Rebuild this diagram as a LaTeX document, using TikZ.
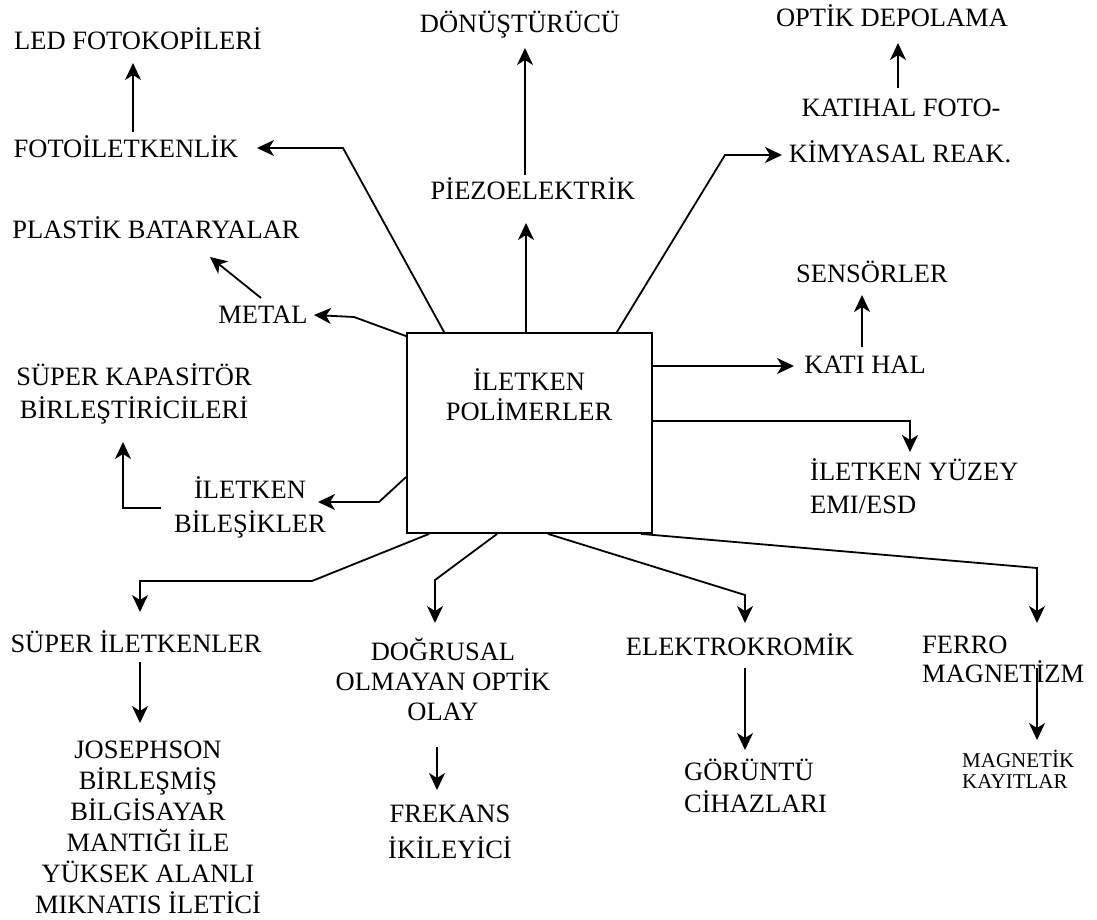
\documentclass[tikz,border=0pt]{standalone}
\usepackage{fontspec}
\setmainfont{Liberation Serif}
\usetikzlibrary{arrows.meta,calc}

\begin{document}
\begin{tikzpicture}[
  x=1pt, y=-1pt,
  lbl/.style={font=\fontsize{26.5}{32}\selectfont, inner sep=0pt, anchor=base},
  lblc/.style={lbl, align=center},
  lbll/.style={lbl, align=left, anchor=base west},
  hub/.style={draw, line width=1.8pt, minimum width=245pt, minimum height=200pt, inner sep=0pt},
  arr/.style={-{Stealth[length=17pt,width=16pt,inset=5pt]}, line width=1.8pt},
]
  \useasboundingbox (0,0) rectangle (1097,920);

  \node[hub] (poly) at (529.5,433) {};
  \node[lblc, font=\fontsize{26.5}{30}\selectfont] (polytxt) at (529,420) {İLETKEN\\POLİMERLER};

  \node[lbl] (led) at (138,50) {LED FOTOKOPİLERİ};
  \node[lbl] (foto) at (126,158) {FOTOİLETKENLİK};
  \node[lbl] (plastik) at (156,238) {PLASTİK BATARYALAR};
  \node[lbl] (metal) at (263,323) {METAL};
  \node[lblc, font=\fontsize{26.5}{33}\selectfont] (superkap) at (134,418) {SÜPER KAPASİTÖR\\BİRLEŞTİRİCİLERİ};
  \node[lblc, font=\fontsize{26.5}{34}\selectfont] (ilbil) at (250,532) {İLETKEN\\BİLEŞİKLER};

  \node[lbl] (donus) at (520,33) {DÖNÜŞTÜRÜCÜ};
  \node[lbl] (piezo) at (533,200) {PİEZOELEKTRİK};
  \node[lbl] (optik) at (892,27) {OPTİK DEPOLAMA};
  \node[lbl] (kfoto) at (901,117) {KATIHAL FOTO-};
  \node[lbl] (kimya) at (900,163) {KİMYASAL REAK.};
  \node[lbl] (sensor) at (872,282) {SENSÖRLER};
  \node[lbl] (katihal) at (865,373) {KATI HAL};
  \node[lbll, font=\fontsize{26.5}{33}\selectfont] (yuzey) at (810,513) {İLETKEN YÜZEY\\EMI/ESD};

  \node[lbl] (superilet) at (136,652) {SÜPER İLETKENLER};
  \node[lblc, font=\fontsize{26.5}{31}\selectfont] (joseph) at (148,913)
    {JOSEPHSON\\BİRLEŞMİŞ\\BİLGİSAYAR\\MANTIĞI İLE\\YÜKSEK ALANLI\\MIKNATIS İLETİCİ};
  \node[lblc, font=\fontsize{26.5}{30}\selectfont] (dogrusal) at (443,720) {DOĞRUSAL\\OLMAYAN OPTİK\\OLAY};
  \node[lblc, font=\fontsize{26.5}{36}\selectfont] (frekans) at (450,858) {FREKANS\\İKİLEYİCİ};
  \node[lbl] (elektro) at (740,655) {ELEKTROKROMİK};
  \node[lbll] (goruntu) at (684,812) {GÖRÜNTÜ\\CİHAZLARI};
  \node[lbll, font=\fontsize{26.5}{29}\selectfont] (ferro) at (922,682) {FERRO\\MAGNETİZM};
  \node[lbll, font=\fontsize{21}{21}\selectfont] (magnetik) at (962,788) {MAGNETİK\\KAYITLAR};

  \draw[arr] ($(foto.base)+(7,-26)$) -- ($(led.base)+(-5,13)$);
  \draw[arr] ($(poly.north west)+(38,0)$) -- ($(foto.base)+(217,-10)$) -- ($(foto.base)+(131,-10)$);
  \draw[arr] ($(metal.base)+(-2,-25)$) -- ($(plastik.base)+(54,19)$);
  \draw[arr] ($(poly.north west)+(0,4)$) -- ($(metal.base)+(91,-6)$) -- ($(metal.base)+(51,-8)$);
  \draw[arr] ($(ilbil.base)+(-89,-24)$) -| ($(superkap.base)+(-11,24)$);
  \draw[arr] ($(poly.west)+(0,44)$) -- ($(ilbil.base)+(129,-30)$) -- ($(ilbil.base)+(68,-30)$);

  \draw[arr] ($(poly.north)+(-3.5,0)$) -- ($(piezo.base)+(-7,23)$);
  \draw[arr] ($(piezo.base)+(-8,-25)$) -- ($(donus.base)+(5,15)$);
  \draw[arr] ($(poly.north east)+(-36,0)$) -- ($(kimya.base)+(-175,-8)$) -- ($(kimya.base)+(-118,-8)$);
  \draw[arr] ($(kfoto.base)+(-3,-29)$) -- ($(optik.base)+(6,16)$);
  \draw[arr] ($(poly.east)+(0,-67)$) -- ($(katihal.base)+(-71,-7)$);
  \draw[arr] ($(katihal.base)+(-3,-26)$) -- ($(sensor.base)+(-10,13)$);
  \draw[arr] ($(poly.east)+(0,-12)$) -| ($(yuzey.base west)+(100,-61)$);

  \draw[arr] ($(poly.south west)+(23,0)$) -- ($(superilet.base)+(176,-71)$) -| ($(superilet.base)+(4,-40)$);
  \draw[arr] ($(superilet.base)+(4,10)$) -- ($(joseph.base)+(-8,-190)$);
  \draw[arr] ($(poly.south west)+(91,0)$) -- ($(dogrusal.base)+(-8,-140)$) -- ($(dogrusal.base)+(-8,-97)$);
  \draw[arr] ($(dogrusal.base)+(-6,27)$) -- ($(frekans.base)+(-13,-68)$);
  \draw[arr] ($(poly.south)+(18.5,0)$) -- ($(elektro.base)+(5,-60)$) -- ($(elektro.base)+(5,-32)$);
  \draw[arr] ($(elektro.base)+(5,13)$) -- ($(goruntu.base west)+(61,-62)$);
  \draw[arr] ($(poly.south east)+(-12,0)$) -- ($(ferro.base west)+(115,-114)$) -- ($(ferro.base west)+(115,-59)$);
  \draw[arr] ($(ferro.base west)+(115,-14)$) -- ($(magnetik.base west)+(75,-48)$);
\end{tikzpicture}
\end{document}
